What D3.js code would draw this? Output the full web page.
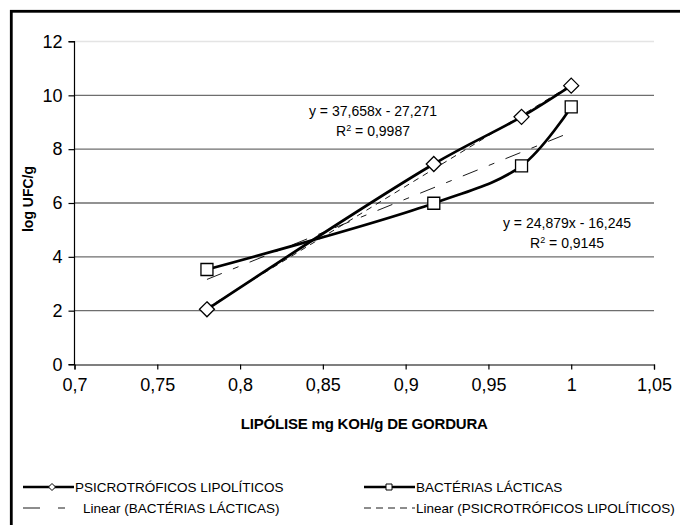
<!DOCTYPE html>
<html>
<head>
<meta charset="utf-8">
<script src="https://cdn.jsdelivr.net/npm/d3@7"></script>
<style>
  body { margin: 0; background: #fff; }
  svg { display: block; font-family: "Liberation Sans", Arial, sans-serif; }
</style>
</head>
<body>
<script>
let width = 680;
let height = 525;

// data
let lipolise = [0.78, 0.917, 0.97, 1.0];
let psicro = [2.05, 7.45, 9.2, 10.36];
let bacterias = [3.53, 5.99, 7.38, 9.57];
let xTicks = [0.7, 0.75, 0.8, 0.85, 0.9, 0.95, 1, 1.05];
let yTicks = [0, 2, 4, 6, 8, 10, 12];
let trendPsicro = { slope: 37.658, intercept: -27.271, r2: "0,9987" };
let trendBact = { slope: 24.879, intercept: -16.245, r2: "0,9145" };

let svg = d3
  .select("body")
  .append("svg")
  .attr("width", width)
  .attr("height", height);

// outer frame (runs off the right and bottom edge)
svg
  .append("rect")
  .attr("x", 11.3)
  .attr("y", 11.3)
  .attr("width", 720)
  .attr("height", 560)
  .attr("fill", "none")
  .attr("stroke", "#000")
  .attr("stroke-width", 2.8);

let x = d3.scaleLinear().domain([0.7, 1.05]).range([74.5, 654]);
let y = d3.scaleLinear().domain([0, 12]).range([364.5, 41.5]);

// grid lines
svg
  .selectAll(".grid")
  .data(yTicks.filter((d) => d > 0))
  .enter()
  .append("line")
  .attr("class", "grid")
  .attr("x1", x(0.7))
  .attr("x2", x(1.05))
  .attr("y1", (d) => y(d))
  .attr("y2", (d) => y(d))
  .attr("stroke", (d) => (d == 12 ? "#e4e4e4" : "#6e6e6e"))
  .attr("stroke-width", 1.3);

let fmt = (d) => String(d).replace(".", ",");

let yAxis = svg
  .append("g")
  .attr("transform", `translate(${x(0.7)},0)`)
  .call(d3.axisLeft(y).tickValues(yTicks).tickSize(6).tickPadding(6).tickFormat(fmt));

let xAxis = svg
  .append("g")
  .attr("transform", `translate(0,${y(0)})`)
  .call(d3.axisBottom(x).tickValues(xTicks).tickSize(5).tickPadding(9).tickFormat(fmt));

[xAxis, yAxis].forEach((g) => {
  g.select(".domain").attr("stroke", "#000").attr("stroke-width", 1.2);
  g.selectAll(".tick line").attr("stroke", "#000").attr("stroke-width", 1.2);
  g.selectAll("text")
    .attr("fill", "#000")
    .attr("font-size", "18px")
    .attr("font-family", "'Liberation Sans', Arial, sans-serif");
});
yAxis.select(".domain").attr("d", `M-6,${y(0)}H0V${y(12)}H-6`);

// axis titles
svg
  .append("text")
  .attr("x", x(0.875))
  .attr("y", 429)
  .attr("text-anchor", "middle")
  .attr("font-size", "15px")
  .attr("font-weight", "bold")
  .attr("letter-spacing", "-0.2px")
  .text("LIPÓLISE mg KOH/g DE GORDURA");

svg
  .append("text")
  .attr("transform", `translate(33,${y(6) - 4}) rotate(-90)`)
  .attr("text-anchor", "middle")
  .attr("font-size", "14px")
  .attr("font-weight", "bold")
  .text("log UFC/g");

// trend lines
let trendLine = (t) =>
  [d3.min(lipolise), d3.max(lipolise)].map((v) => [x(v), y(t.slope * v + t.intercept)]);

svg
  .append("path")
  .attr("d", d3.line()(trendLine(trendBact)))
  .attr("fill", "none")
  .attr("stroke", "#000")
  .attr("stroke-width", 0.9)
  .attr("stroke-dasharray", "16,12,6,12");

svg
  .append("path")
  .attr("d", d3.line()(trendLine(trendPsicro)))
  .attr("fill", "none")
  .attr("stroke", "#000")
  .attr("stroke-width", 0.9)
  .attr("stroke-dasharray", "6,5");

// series lines
let line = d3
  .line()
  .x((d) => x(d[0]))
  .y((d) => y(d[1]))
  .curve(d3.curveCatmullRom.alpha(0.5));

let psicroPts = lipolise.map((v, i) => [v, psicro[i]]);
let bactPts = lipolise.map((v, i) => [v, bacterias[i]]);

[psicroPts, bactPts].forEach((pts) => {
  svg
    .append("path")
    .attr("d", line(pts))
    .attr("fill", "none")
    .attr("stroke", "#000")
    .attr("stroke-width", 2.7);
});

let diamond = (s) => `M0,${-s}L${s},0L0,${s}L${-s},0Z`;
let square = (s) => `M${-s},${-s}H${s}V${s}H${-s}Z`;

svg
  .selectAll(".dia")
  .data(psicroPts)
  .enter()
  .append("path")
  .attr("class", "dia")
  .attr("transform", (d) => `translate(${x(d[0])},${y(d[1])})`)
  .attr("d", diamond(7.5))
  .attr("fill", "#fff")
  .attr("stroke", "#000")
  .attr("stroke-width", 1.3);

svg
  .selectAll(".sq")
  .data(bactPts)
  .enter()
  .append("path")
  .attr("class", "sq")
  .attr("transform", (d) => `translate(${x(d[0])},${y(d[1])})`)
  .attr("d", square(6))
  .attr("fill", "#fff")
  .attr("stroke", "#000")
  .attr("stroke-width", 1.3);

// equation labels
let eqFmt = (t) =>
  `y = ${fmt(t.slope.toFixed(3))}x - ${fmt(Math.abs(t.intercept).toFixed(3))}`;

function equation(t, cx, by) {
  svg
    .append("text")
    .attr("x", cx)
    .attr("y", by)
    .attr("text-anchor", "middle")
    .attr("font-size", "14px")
    .text(eqFmt(t));
  let r = svg
    .append("text")
    .attr("x", cx)
    .attr("y", by + 20)
    .attr("text-anchor", "middle")
    .attr("font-size", "14px");
  r.append("tspan").text("R");
  r.append("tspan").attr("font-size", "9px").attr("dy", -5).text("2");
  r.append("tspan").attr("dy", 5).text(" = " + t.r2);
}
equation(trendPsicro, 373, 116);
equation(trendBact, 567, 228);

// legend
let legend = [
  { label: "PSICROTRÓFICOS LIPOLÍTICOS", x: 23, y: 487, type: "dia" },
  { label: "BACTÉRIAS LÁCTICAS", x: 364, y: 487, type: "sq" },
  { label: "Linear (BACTÉRIAS LÁCTICAS)", x: 23, y: 508, type: "bact" },
  { label: "Linear (PSICROTRÓFICOS LIPOLÍTICOS)", x: 364, y: 508, type: "psi" },
];

let items = svg
  .selectAll(".legend")
  .data(legend)
  .enter()
  .append("g")
  .attr("class", "legend")
  .attr("transform", (d) => `translate(${d.x},${d.y})`);

items
  .append("line")
  .attr("x1", 0)
  .attr("x2", (d) => (d.type == "bact" ? 42 : 51))
  .attr("stroke", "#000")
  .attr("stroke-width", (d) => (d.type == "dia" || d.type == "sq" ? 2.6 : 0.9))
  .attr("stroke-dasharray", (d) =>
    d.type == "bact" ? "17,18,7,20" : d.type == "psi" ? "7,5" : null
  );

items
  .filter((d) => d.type == "dia")
  .append("path")
  .attr("transform", "translate(29,0)")
  .attr("d", diamond(3.5))
  .attr("fill", "#fff")
  .attr("stroke", "#000")
  .attr("stroke-width", 1);

items
  .filter((d) => d.type == "sq")
  .append("path")
  .attr("transform", "translate(25,0)")
  .attr("d", square(3))
  .attr("fill", "#fff")
  .attr("stroke", "#000")
  .attr("stroke-width", 1);

items
  .append("text")
  .attr("x", (d) => (d.type == "bact" ? 60 : 52))
  .attr("y", 5)
  .attr("font-size", "13.5px")
  .text((d) => d.label);
</script>
</body>
</html>
